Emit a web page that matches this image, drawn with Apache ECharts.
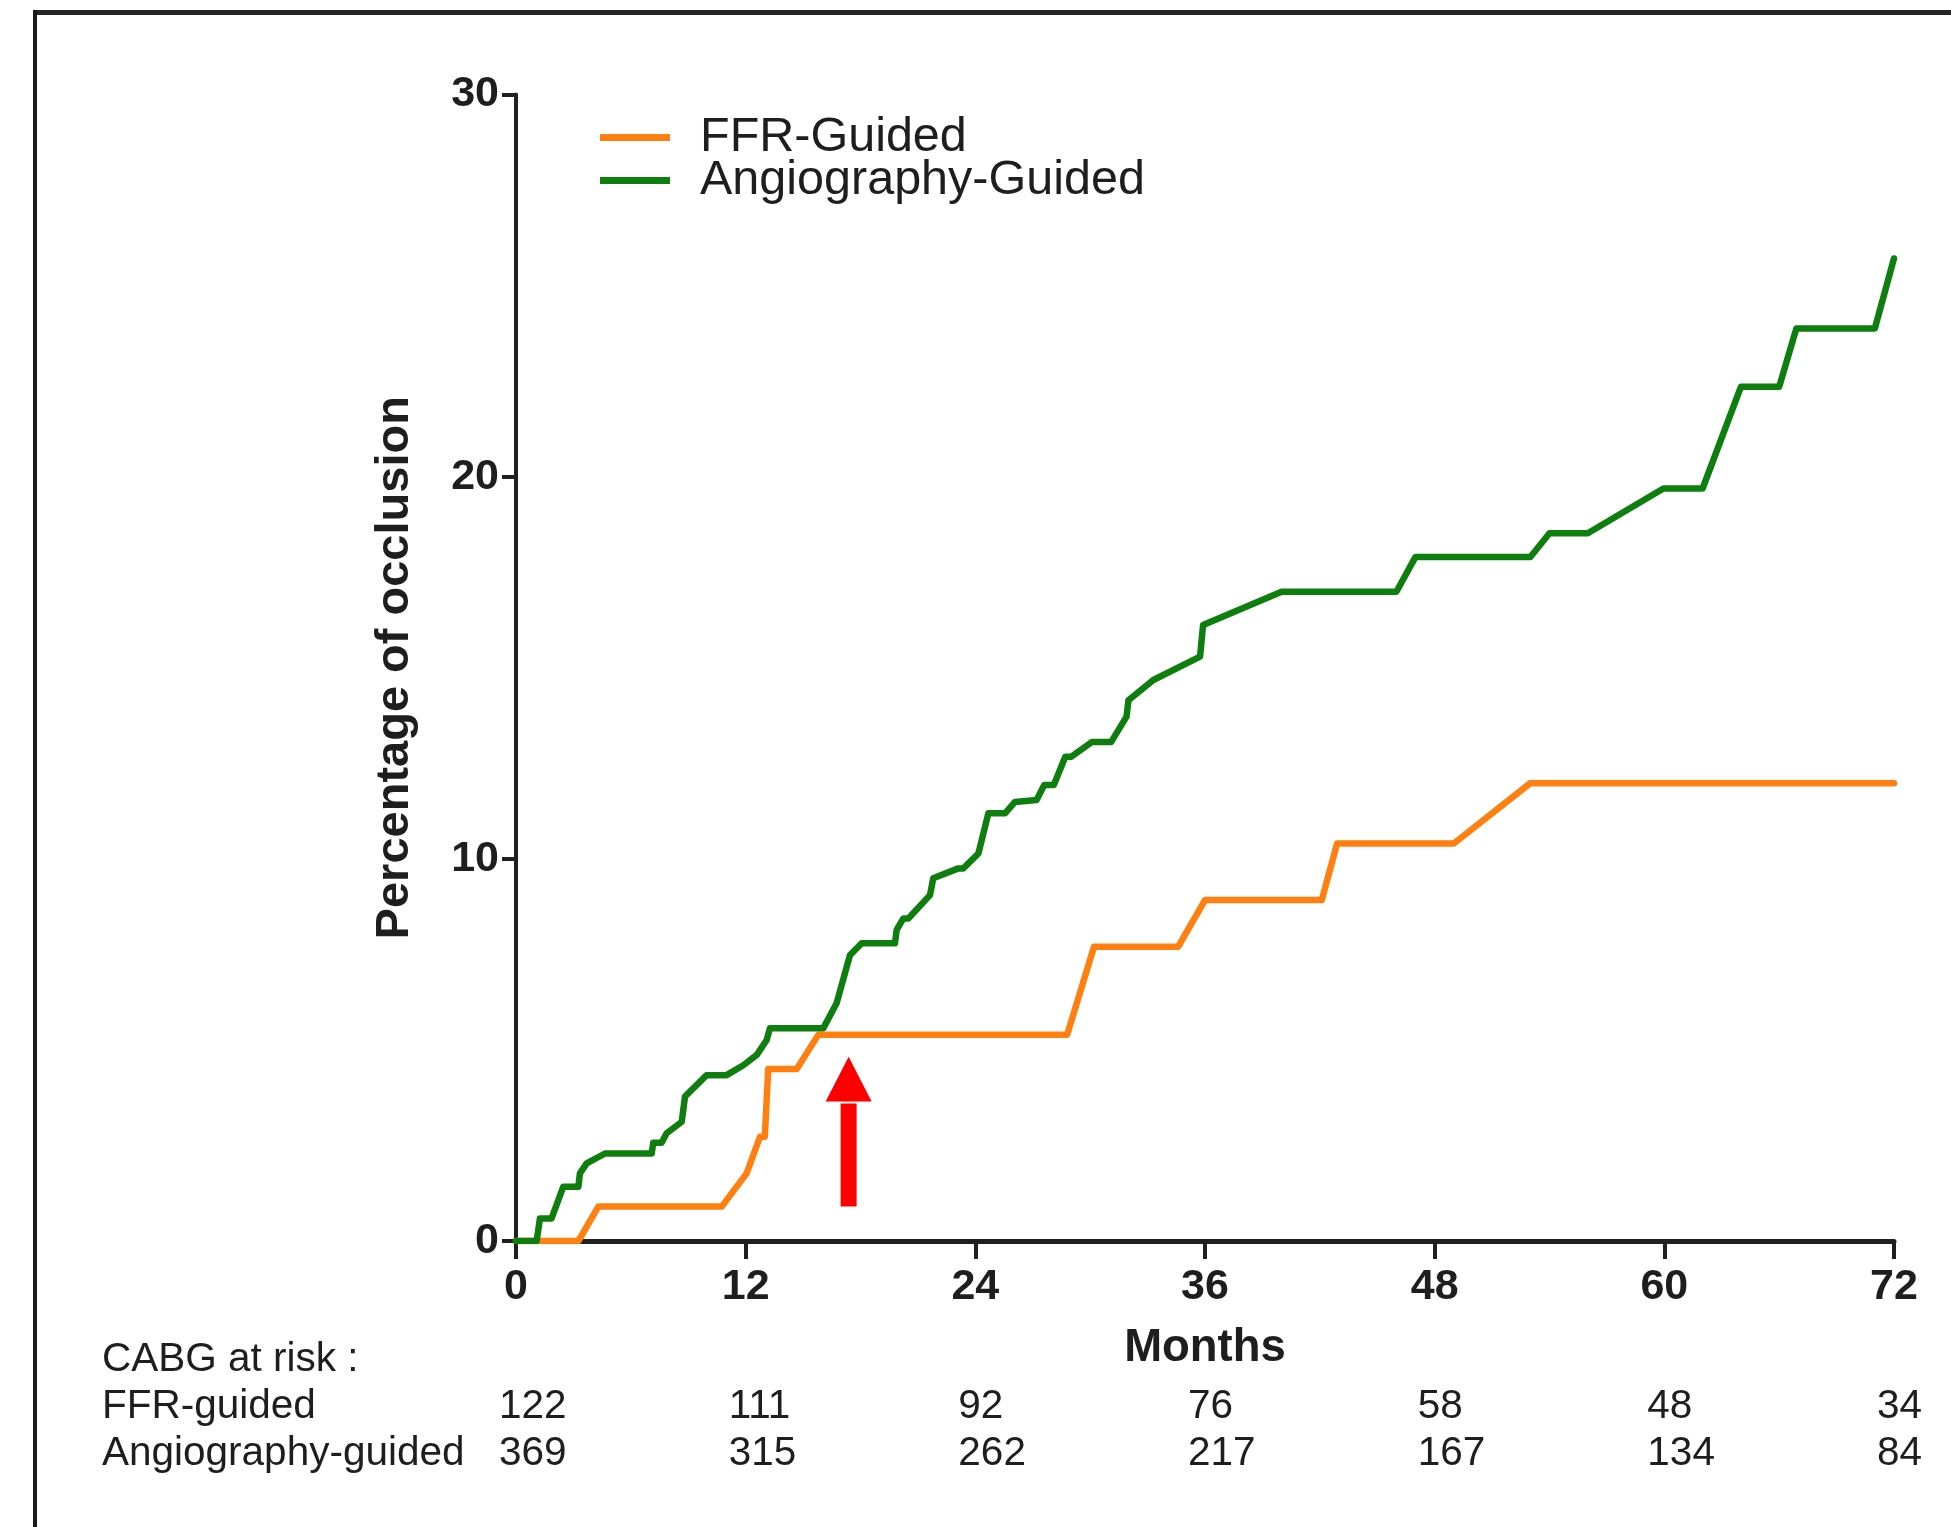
<!DOCTYPE html>
<html>
<head>
<meta charset="utf-8">
<script src="https://cdn.jsdelivr.net/npm/echarts@6/dist/echarts.min.js"></script>
<style>
html,body{margin:0;padding:0;background:#fff;}
#chart{width:1951px;height:1527px;}
</style>
</head>
<body>
<div id="chart"></div>
<script>
// ---- data ----
var xTicks = [0, 12, 24, 36, 48, 60, 72];
var yTicks = [0, 10, 20, 30];

var ffrMonths = [0, 3.26, 4.3, 10.75, 12.05, 12.75, 13.0, 13.18, 14.67, 15.8, 28.8, 30.2, 34.6, 36.0, 42.1, 42.9, 49.0, 53.0, 72];
var ffrPct    = [0, 0,    0.9, 0.9,   1.77,  2.73,  2.73, 4.5,   4.5,   5.4,  5.4,  7.7,  7.7,  8.92, 8.92, 10.4, 10.4, 11.98, 11.98];

var angioMonths = [0, 1.08, 1.25, 1.86, 2.47, 3.26, 3.34, 3.69, 4.65, 7.09, 7.17, 7.61, 7.87, 8.66, 8.83, 9.96, 11.0, 11.88, 12.58, 13.1, 13.27, 16.06, 16.75, 17.45, 18.06, 19.8, 19.89, 20.24, 20.5, 21.63, 21.8, 23.11, 23.37, 24.16, 24.68, 25.55, 26.07, 27.2, 27.6, 28.1, 28.7, 29.0, 30.1, 31.1, 31.9, 32.0, 33.3, 35.74, 35.9, 40.0, 46.0, 47.0, 53.0, 54.0, 56.0, 59.95, 62.0, 64.0, 66.0, 66.9, 71.0, 72.0];
var angioPct    = [0, 0,    0.59, 0.59, 1.42, 1.42, 1.77, 2.03, 2.29, 2.29, 2.57, 2.57, 2.82, 3.12, 3.78, 4.34, 4.34, 4.6,   4.87,  5.26, 5.57,  5.57,  6.22,  7.48,  7.79,  7.79, 8.14,  8.44,  8.44, 9.05,  9.49, 9.75,  9.75,  10.14, 11.19, 11.19, 11.49, 11.54, 11.93, 11.93, 12.67, 12.67, 13.06, 13.06, 13.72, 14.15, 14.68, 15.29, 16.12, 16.99, 16.99, 17.9, 17.9, 18.52, 18.52, 19.69, 19.69, 22.35, 22.35, 23.88, 23.88, 25.71];

var riskRows = ['CABG at risk :', 'FFR-guided', 'Angiography-guided'];
var riskMonths = [0, 12, 24, 36, 48, 60, 72];
var ffrAtRisk   = [122, 111, 92, 76, 58, 48, 34];
var angioAtRisk = [369, 315, 262, 217, 167, 134, 84];

// arrow annotation: [month, tip %, head base %, tail %]
var arrowMark = [[17.38, 4.82, 3.65, 0.90]];

// ---- build ----
function zip(a, b) { return a.map(function (v, i) { return [v, b[i]]; }); }
var riskData = [];
riskMonths.forEach(function (m, i) {
  riskData.push([m, 1, ffrAtRisk[i]]);
  riskData.push([m, 2, angioAtRisk[i]]);
});

var FONT = '"Liberation Sans", Arial, Helvetica, sans-serif';
var TXT = '#1e1e1e';
var AX = '#202020';

var chart = echarts.init(document.getElementById('chart'), null, {renderer: 'canvas'});
chart.setOption({
  animation: false,
  backgroundColor: '#ffffff',
  textStyle: {fontFamily: FONT, color: TXT},
  graphic: [
    {type: 'line', shape: {x1: 33, y1: 12.5, x2: 1951, y2: 12.5}, style: {stroke: '#262626', lineWidth: 5}},
    {type: 'line', shape: {x1: 35, y1: 10, x2: 35, y2: 1527}, style: {stroke: '#1a1a1a', lineWidth: 4}}
  ],
  legend: {
    orient: 'vertical',
    left: 600,
    top: 113,
    padding: 0,
    itemGap: -6,
    itemWidth: 70,
    itemHeight: 7,
    icon: 'rect',
    data: ['FFR-Guided', 'Angiography-Guided'],
    textStyle: {fontSize: 48.5, color: TXT, fontFamily: FONT, padding: [0, 0, 0, 25]}
  },
  grid: [
    {left: 516, right: 57, top: 94.5, bottom: 286, containLabel: false},
    {left: 516, right: 57, top: 1336, height: 141, containLabel: false}
  ],
  xAxis: [
    {
      type: 'value', gridIndex: 0, min: 0, max: 72, interval: 12,
      name: 'Months', nameLocation: 'middle', nameGap: 84,
      nameTextStyle: {fontSize: 45.5, fontWeight: 'bold', color: TXT, fontFamily: FONT},
      axisLine: {show: true, onZero: false, lineStyle: {color: AX, width: 5}},
      axisTick: {show: true, length: 18, lineStyle: {color: AX, width: 4}},
      axisLabel: {fontSize: 43, fontWeight: 'bold', color: TXT, margin: 25, fontFamily: FONT},
      splitLine: {show: false}
    },
    {type: 'value', gridIndex: 1, min: 0, max: 72, show: false}
  ],
  yAxis: [
    {
      type: 'value', gridIndex: 0, min: 0, max: 30, interval: 10,
      name: 'Percentage of occlusion', nameLocation: 'middle', nameGap: 97, nameRotate: 90,
      nameTextStyle: {fontSize: 47, fontWeight: 'bold', color: TXT, fontFamily: FONT},
      axisLine: {show: true, lineStyle: {color: AX, width: 4}},
      axisTick: {show: true, length: 14, lineStyle: {color: AX, width: 4}},
      axisLabel: {fontSize: 43, fontWeight: 'bold', color: TXT, margin: 17, fontFamily: FONT},
      splitLine: {show: false}
    },
    {
      type: 'category', gridIndex: 1, data: riskRows, inverse: true,
      axisLine: {show: false}, axisTick: {show: false}, splitLine: {show: false},
      axisLabel: {interval: 0, align: 'left', margin: 414, fontSize: 40.5, color: TXT, fontFamily: FONT}
    }
  ],
  series: [
    {
      name: 'FFR-Guided', type: 'line', xAxisIndex: 0, yAxisIndex: 0,
      data: zip(ffrMonths, ffrPct), symbol: 'none', color: '#ff8010',
      lineStyle: {width: 6.5, color: '#ff8010', join: 'round', cap: 'round'}
    },
    {
      name: 'Angiography-Guided', type: 'line', xAxisIndex: 0, yAxisIndex: 0,
      data: zip(angioMonths, angioPct), symbol: 'none', color: '#0e7f0e',
      lineStyle: {width: 6.5, color: '#0e7f0e', join: 'round', cap: 'round'}
    },
    {
      name: 'arrow', type: 'custom', xAxisIndex: 0, yAxisIndex: 0,
      data: arrowMark, encode: {x: 0, y: 1}, z: 5, silent: true,
      renderItem: function (params, api) {
        var tip = api.coord([api.value(0), api.value(1)]);
        var base = api.coord([api.value(0), api.value(2)]);
        var tail = api.coord([api.value(0), api.value(3)]);
        var hw = 23, sw = 8;
        return {
          type: 'group',
          children: [
            {type: 'polygon', shape: {points: [[tip[0], tip[1]], [tip[0] - hw, base[1]], [tip[0] + hw, base[1]]]}, style: {fill: '#ff0000'}},
            {type: 'rect', shape: {x: tip[0] - sw, y: base[1] + 2, width: 2 * sw, height: tail[1] - base[1] - 2}, style: {fill: '#ff0000'}}
          ]
        };
      }
    },
    {
      name: 'risk', type: 'custom', xAxisIndex: 1, yAxisIndex: 1,
      data: riskData, encode: {x: 0, y: 1}, silent: true, clip: false,
      renderItem: function (params, api) {
        var p = api.coord([api.value(0), api.value(1)]);
        return {
          type: 'text',
          x: p[0] - 17, y: p[1],
          style: {
            text: String(api.value(2)), fontSize: 40.5, fontFamily: FONT, fill: TXT,
            align: 'left', verticalAlign: 'middle'
          }
        };
      }
    }
  ]
});
</script>
</body>
</html>
